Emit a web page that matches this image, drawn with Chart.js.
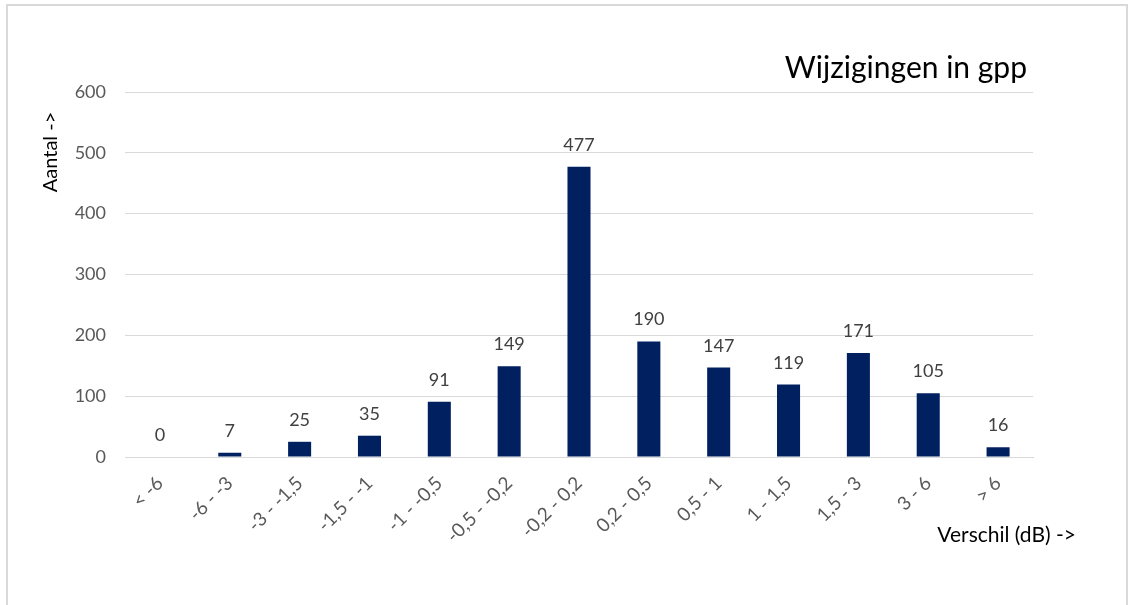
<!DOCTYPE html>
<html>
<head>
<meta charset="utf-8">
<script src="https://cdn.jsdelivr.net/npm/chart.js@4"></script>
<style>
html,body{margin:0;padding:0;background:#fff;overflow:hidden;}
#frame{position:absolute;left:6px;top:4px;width:1122px;height:640px;border:2px solid #d9d9d9;box-sizing:border-box;}
#wrap{position:absolute;left:0;top:0;width:1134px;height:605px;}
</style>
</head>
<body>
<div id="frame"></div>
<div id="wrap"><canvas id="c" width="1134" height="605"></canvas></div>
<script>
const categories = ["< -6", "-6 - -3", "-3 - -1,5", "-1,5 - -1", "-1 - -0,5", "-0,5 - -0,2", "-0,2 - 0,2", "0,2 - 0,5", "0,5 - 1", "1 - 1,5", "1,5 - 3", "3 - 6", "> 6"];
const counts = [0, 7, 25, 35, 91, 149, 477, 190, 147, 119, 171, 105, 16];
const chartTitle = "Wijzigingen in gpp";
const yTitle = "Aantal ->";
const xTitle = "Verschil (dB) ->";
const FONT = "Lato, 'Open Sans', sans-serif";

const textPlugin = {
  id: 'texts',
  afterDatasetsDraw(chart) {
    const ctx = chart.ctx;
    const meta = chart.getDatasetMeta(0);
    ctx.save();
    ctx.fillStyle = '#404040';
    ctx.font = '18px ' + FONT;
    ctx.textAlign = 'center';
    ctx.textBaseline = 'alphabetic';
    meta.data.forEach((bar, i) => {
      ctx.fillText(String(counts[i]), bar.x, bar.y - 16);
    });
    // title
    ctx.fillStyle = '#000';
    ctx.font = '30px ' + FONT;
    ctx.textAlign = 'right';
    ctx.textBaseline = 'alphabetic';
    ctx.fillText(chartTitle, 1027, 78);
    // x title
    ctx.font = '21px ' + FONT;
    ctx.textAlign = 'right';
    ctx.textBaseline = 'middle';
    ctx.fillText(xTitle, 1076, 535);
    // y title
    ctx.font = '20px ' + FONT;
    ctx.translate(51, 152);
    ctx.rotate(-Math.PI / 2);
    ctx.textAlign = 'center';
    ctx.textBaseline = 'middle';
    ctx.fillText(yTitle, 0, 0);
    ctx.restore();
  }
};

new Chart(document.getElementById('c'), {
  type: 'bar',
  data: {
    labels: categories,
    datasets: [{
      data: counts,
      backgroundColor: '#002060',
      barPercentage: 0.33,
      categoryPercentage: 1.0
    }]
  },
  options: {
    responsive: false,
    animation: false,
    layout: { padding: { left: 0, top: 92, right: 101, bottom: 0 } },
    plugins: { legend: { display: false }, tooltip: { enabled: false } },
    scales: {
      x: {
        afterFit(s) { s.height = 148; },
        grid: { display: false, drawTicks: false },
        border: { display: true, color: '#d9d9d9', width: 1 },
        ticks: { color: '#595959', font: { family: FONT, size: 19 }, minRotation: 45, maxRotation: 45, padding: 15, autoSkip: false }
      },
      y: {
        min: 0, max: 600,
        afterFit(s) { s.width = 125; },
        grid: { color: '#d9d9d9', drawTicks: false },
        border: { display: false },
        ticks: { stepSize: 100, color: '#595959', font: { family: FONT, size: 18 }, padding: 19 }
      }
    }
  },
  plugins: [textPlugin]
});
</script>
</body>
</html>
